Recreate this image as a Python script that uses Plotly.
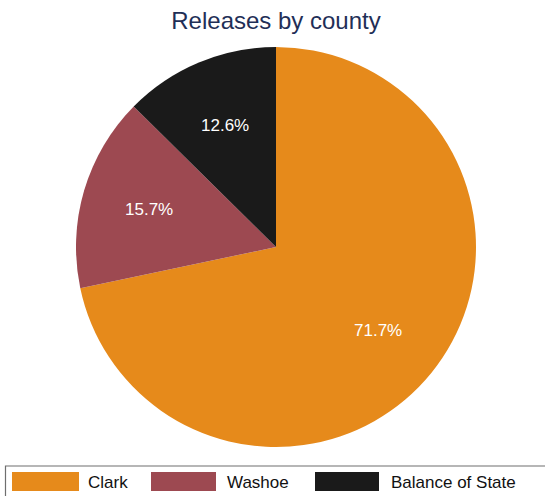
import math
import plotly.graph_objects as go

counties = ["Clark", "Washoe", "Balance of State"]
shares = [71.7, 15.7, 12.6]
colors = ["#E68A1B", "#9D4951", "#1A1A1A"]

W, H = 545, 496
FONT = "Liberation Sans, Arial, sans-serif"

# Pie geometry (pixels): centre and radius
CX, CY, R = 276, 247, 200

fig = go.Figure(go.Pie(
    labels=counties,
    values=shares,
    sort=False,
    direction="clockwise",
    rotation=0,
    marker=dict(colors=colors, line=dict(width=0)),
    textinfo="none",
    hole=0,
    showlegend=False,
    domain=dict(x=[(CX - R) / W, (CX + R) / W], y=[1 - (CY + R) / H, 1 - (CY - R) / H]),
))

# Percentage labels placed along each slice's mid-angle
annotations = []
total = sum(shares)
cum = 0.0
for v in shares:
    mid = (cum + v / 2) / total * 2 * math.pi
    cum += v
    px = CX + 0.66 * R * math.sin(mid)
    py = CY - 0.66 * R * math.cos(mid)
    annotations.append(dict(text=f"{v / total * 100:.1f}%", xref="paper", yref="paper",
                            x=px / W, y=1 - py / H, xanchor="center", yanchor="middle",
                            showarrow=False, font=dict(size=17, color="white", family=FONT)))

# Legend drawn as a framed strip along the bottom
shapes = [dict(type="rect", xref="paper", yref="paper",
               x0=5.5 / W, x1=1.02, y0=-0.02, y1=1 - 466 / H,
               line=dict(color="#6E6E6E", width=1.2), fillcolor="white", layer="below")]
swatch_x = [(12, 79), (151, 216), (315, 379)]
text_x = [86, 225, 389]
for name, col, (a, b), tx in zip(counties, colors, swatch_x, text_x):
    shapes.append(dict(type="rect", xref="paper", yref="paper",
                       x0=a / W, x1=b / W, y0=1 - 491 / H, y1=1 - 472 / H,
                       line=dict(width=0), fillcolor=col))
    annotations.append(dict(text=name, xref="paper", yref="paper",
                            x=tx / W, y=1 - 482 / H, xanchor="left", yanchor="middle",
                            showarrow=False, font=dict(size=17, color="#111111", family=FONT)))

fig.update_layout(
    width=W, height=H,
    margin=dict(l=0, r=0, t=0, b=0),
    paper_bgcolor="white", plot_bgcolor="white",
    title=dict(text="Releases by county", x=276 / W, xanchor="center",
               y=1 - 21 / H, yanchor="middle",
               font=dict(size=24, color="#1F2F57", family=FONT)),
    shapes=shapes,
    annotations=annotations,
)

fig.write_html("out.html")
